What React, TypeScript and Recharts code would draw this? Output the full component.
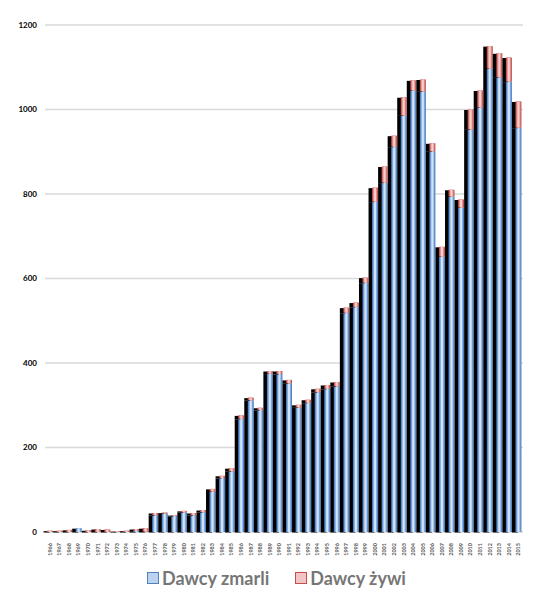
import { BarChart, Bar, XAxis, YAxis, CartesianGrid } from 'recharts';

const years = Array.from({ length: 50 }, (_, i) => String(1966 + i));

const deceased = [
  0, 0, 0, 9, 0, 0, 0, 0, 0, 3,
  1, 40, 44, 38, 47, 40, 47, 96, 128, 144,
  268, 312, 289, 375, 374, 352, 295, 306, 331, 339,
  345, 519, 533, 590, 782, 827, 912, 986, 1045, 1043,
  901, 652, 794, 768, 953, 1005, 1097, 1076, 1066, 957,
];

const living = [
  3, 3, 5, 0, 4, 7, 6, 2, 3, 4,
  8, 5, 2, 2, 3, 5, 5, 6, 5, 7,
  8, 6, 5, 6, 7, 8, 6, 7, 8, 9,
  10, 12, 10, 12, 33, 38, 26, 43, 24, 28,
  19, 23, 16, 19, 47, 40, 53, 57, 57, 62,
];

const yTicks = [0, 200, 400, 600, 800, 1000, 1200];

const data = years.map((year, i) => ({
  year,
  zmarli: deceased[i],
  zywi: living[i],
}));

const BLUE = { edge: '#4a7fc1', mid: '#85ade0', light: '#d3e4f8' };
const RED = { edge: '#c0504d', mid: '#e0908e', light: '#f6cfce' };

// bar with a dark drop shadow on its left, and a lighter centre stripe
function makeShape(c: { edge: string; mid: string; light: string }) {
  return (props: any) => {
    const { x, y, width, height } = props;
    if (!height || height <= 0) return <g />;
    return (
      <g>
        <rect x={x - 3.5} y={y + 0.5} width={width} height={height} fill="#000" />
        <rect x={x} y={y} width={width} height={height} fill={c.edge} />
        <rect x={x + 1} y={y} width={width - 2} height={height} fill={c.mid} />
        <rect x={x + 2} y={y} width={Math.max(width - 4, 1)} height={height} fill={c.light} />
      </g>
    );
  };
}

const YearTick = (props: any) => {
  const { x, y, payload } = props;
  return (
    <text
      x={x}
      y={y + 3}
      transform={`rotate(-90 ${x} ${y + 3})`}
      textAnchor="end"
      dominantBaseline="central"
      fontSize={5.5}
      fontWeight="bold"
      fill="#595959"
      fontFamily="Lato, sans-serif"
    >
      {payload.value}
    </text>
  );
};

export default function App() {
  return (
    <div style={{ position: 'absolute', left: 0, top: 0, width: 549, height: 613, background: '#fff' }}>
      <BarChart
        width={549}
        height={560}
        data={data}
        margin={{ top: 25, right: 26, left: 0, bottom: 0 }}
        barCategoryGap={0}
      >
        <CartesianGrid vertical={false} stroke="#d9d9d9" strokeWidth={1.5} />
        <XAxis
          dataKey="year"
          interval={0}
          tick={<YearTick />}
          tickLine={false}
          axisLine={false}
          height={28}
        />
        <YAxis
          domain={[0, 1200]}
          ticks={yTicks}
          width={45}
          tickLine={false}
          axisLine={false}
          tick={{ fontSize: 8, fontWeight: 'bold', fill: '#000', fontFamily: 'Lato, sans-serif' }}
        />
        <Bar
          dataKey="zmarli"
          stackId="a"
          barSize={6}
          shape={makeShape(BLUE)}
          isAnimationActive={false}
        />
        <Bar
          dataKey="zywi"
          stackId="a"
          barSize={6}
          shape={makeShape(RED)}
          isAnimationActive={false}
        />
      </BarChart>
      <div
        style={{
          position: 'absolute',
          top: 567,
          left: 0,
          width: 549,
          display: 'flex',
          justifyContent: 'center',
          alignItems: 'center',
          fontFamily: 'Lato, sans-serif',
          fontWeight: 'bold',
          fontSize: 18,
          color: '#767676',
          paddingLeft: 4,
          boxSizing: 'border-box',
        }}
      >
        <span style={{ display: 'inline-block', width: 10, height: 10, background: '#bcd3f0', border: '1.5px solid #4f81bd', marginRight: 3 }} />
        <span style={{ marginRight: 26 }}>Dawcy zmarli</span>
        <span style={{ display: 'inline-block', width: 10, height: 10, background: '#f2c4c3', border: '1.5px solid #c0504d', marginRight: 3 }} />
        <span>Dawcy żywi</span>
      </div>
    </div>
  );
}
